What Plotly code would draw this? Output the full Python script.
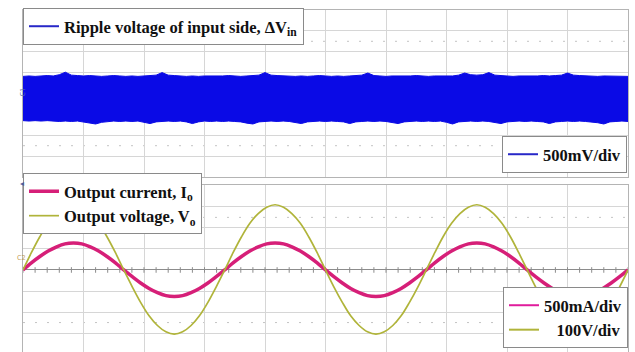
import plotly.graph_objects as go

# ---------------- data ----------------
# time axis, ms (5 ms/div, 10 div)
t_ripple = [i * 0.5 for i in range(101)]
ripple_top = [0.41, 0.42, 0.41, 0.42, 0.43, 0.42, 0.45, 0.51, 0.44, 0.43,
              0.42, 0.43, 0.42, 0.41, 0.42, 0.43, 0.42, 0.41, 0.42, 0.41,
              0.42, 0.43, 0.44, 0.50, 0.44, 0.43, 0.42, 0.41, 0.42, 0.41,
              0.42, 0.42, 0.41, 0.42, 0.43, 0.42, 0.41, 0.42, 0.43, 0.44,
              0.50, 0.44, 0.43, 0.42, 0.42, 0.41, 0.42, 0.41, 0.42, 0.43,
              0.42, 0.41, 0.42, 0.41, 0.42, 0.43, 0.44, 0.49, 0.43, 0.42,
              0.41, 0.42, 0.42, 0.41, 0.42, 0.43, 0.42, 0.41, 0.42, 0.42,
              0.43, 0.42, 0.44, 0.49, 0.45, 0.44, 0.45, 0.50, 0.44, 0.43,
              0.42, 0.41, 0.42, 0.42, 0.41, 0.42, 0.43, 0.42, 0.43, 0.44,
              0.49, 0.44, 0.43, 0.42, 0.42, 0.41, 0.42, 0.42, 0.41, 0.42,
              0.41]
ripple_bot = [-0.65, -0.66, -0.65, -0.66, -0.65, -0.66, -0.67, -0.66, -0.67, -0.66,
              -0.68, -0.70, -0.73, -0.69, -0.67, -0.66, -0.67, -0.66, -0.67, -0.66,
              -0.69, -0.72, -0.68, -0.67, -0.66, -0.67, -0.66, -0.68, -0.72, -0.68,
              -0.66, -0.67, -0.66, -0.67, -0.66, -0.67, -0.68, -0.71, -0.73, -0.68,
              -0.67, -0.66, -0.67, -0.66, -0.67, -0.70, -0.72, -0.68, -0.67, -0.66,
              -0.67, -0.66, -0.67, -0.68, -0.72, -0.68, -0.67, -0.66, -0.67, -0.66,
              -0.67, -0.69, -0.72, -0.68, -0.67, -0.66, -0.67, -0.66, -0.67, -0.66,
              -0.69, -0.73, -0.68, -0.67, -0.66, -0.67, -0.66, -0.67, -0.69, -0.72,
              -0.68, -0.67, -0.66, -0.67, -0.66, -0.67, -0.68, -0.72, -0.68, -0.67,
              -0.66, -0.67, -0.66, -0.67, -0.68, -0.70, -0.73, -0.68, -0.67, -0.66,
              -0.67]

t_wave = [0, 0.69, 1.39, 2.08, 2.78, 3.47, 4.17, 4.86, 5.56, 6.25, 6.94, 7.64,
          8.33, 9.03, 9.72, 10.42, 11.11, 11.81, 12.5, 13.19, 13.89, 14.58, 15.28, 15.97,
          16.67, 17.36, 18.06, 18.75, 19.44, 20.14, 20.83, 21.53, 22.22, 22.92, 23.61, 24.31,
          25.0, 25.69, 26.39, 27.08, 27.78, 28.47, 29.17, 29.86, 30.56, 31.25, 31.94, 32.64,
          33.33, 34.03, 34.72, 35.42, 36.11, 36.81, 37.5, 38.19, 38.89, 39.58, 40.28, 40.97,
          41.67, 42.36, 43.06, 43.75, 44.44, 45.14, 45.83, 46.53, 47.22, 47.92, 48.61, 49.31,
          50.0]
current_A = [0, 0.17, 0.32, 0.45, 0.55, 0.62, 0.64, 0.62, 0.55, 0.45, 0.32, 0.17,
             0, -0.16, -0.31, -0.44, -0.54, -0.61, -0.63, -0.61, -0.54, -0.44, -0.31, -0.16,
             0, 0.17, 0.32, 0.45, 0.55, 0.62, 0.64, 0.62, 0.55, 0.45, 0.32, 0.17,
             0, -0.16, -0.31, -0.44, -0.54, -0.61, -0.63, -0.61, -0.54, -0.44, -0.31, -0.16,
             0, 0.17, 0.32, 0.45, 0.55, 0.62, 0.64, 0.62, 0.55, 0.45, 0.32, 0.17,
             0, -0.16, -0.31, -0.44, -0.54, -0.61, -0.63, -0.61, -0.54, -0.44, -0.31, -0.16,
             0]
voltage_V = [0, 82, 158, 222, 268, 298, 310, 298, 268, 222, 158, 82,
             0, -80, -154, -218, -264, -294, -305, -294, -264, -218, -154, -80,
             0, 82, 158, 222, 268, 298, 310, 298, 268, 222, 158, 82,
             0, -80, -154, -218, -264, -294, -305, -294, -264, -218, -154, -80,
             0, 82, 158, 222, 268, 298, 310, 298, 268, 222, 158, 82,
             0, -80, -154, -218, -264, -294, -305, -294, -264, -218, -154, -80,
             0]

tick_ms = list(range(0, 51))

BLUE = "#0a0ae6"
MAG = "#d61f78"
OLIVE = "#b0b43a"
GRID = "#d6d6d6"
BORDER = "#b4b4b4"

fig = go.Figure()

# ripple band
fig.add_trace(go.Scatter(x=t_ripple, y=ripple_top, mode="lines",
                         line=dict(color=BLUE, width=1), showlegend=False,
                         xaxis="x", yaxis="y"))
fig.add_trace(go.Scatter(x=t_ripple, y=ripple_bot, mode="lines", fill="tonexty",
                         fillcolor=BLUE, line=dict(color=BLUE, width=1),
                         showlegend=False, xaxis="x", yaxis="y"))

# centre-line tick marks on bottom panel
fig.add_trace(go.Scatter(x=tick_ms, y=[0] * len(tick_ms), mode="markers",
                         marker=dict(symbol="line-ns-open", size=4, color="#8c8c8c",
                                     line=dict(color="#8c8c8c", width=1)),
                         showlegend=False, xaxis="x2", yaxis="y2", hoverinfo="skip"))

# output waveforms
fig.add_trace(go.Scatter(x=t_wave, y=voltage_V, mode="lines",
                         line=dict(color=OLIVE, width=1.7, shape="spline"),
                         name="Output voltage, V<sub>o</sub>", legend="legend3",
                         legendrank=2, xaxis="x2", yaxis="y3"))
fig.add_trace(go.Scatter(x=t_wave, y=current_A, mode="lines",
                         line=dict(color=MAG, width=3.5, shape="spline"),
                         name="Output current, I<sub>o</sub>", legend="legend3",
                         legendrank=1, xaxis="x2", yaxis="y2"))

# legend-only entries
fig.add_trace(go.Scatter(x=[None], y=[None], mode="lines",
                         line=dict(color="#2828c8", width=2),
                         name="Ripple voltage of input side, ΔV<sub>in</sub>",
                         legend="legend"))
fig.add_trace(go.Scatter(x=[None], y=[None], mode="lines",
                         line=dict(color="#2828c8", width=2),
                         name="500mV/div", legend="legend2"))
fig.add_trace(go.Scatter(x=[None], y=[None], mode="lines",
                         line=dict(color="#e01c9c", width=2),
                         name="500mA/div", legend="legend4", legendrank=1))
fig.add_trace(go.Scatter(x=[None], y=[None], mode="lines",
                         line=dict(color=OLIVE, width=2),
                         name="\u00a0\u00a0\u00a0100V/div", legend="legend4", legendrank=2))

xdom = [23 / 635, 628 / 635]
axcommon = dict(showgrid=True, gridcolor=GRID, gridwidth=1, showticklabels=False,
                ticks="", showline=True, linecolor=BORDER, linewidth=1, mirror=True,
                zeroline=False, fixedrange=True)

legfont = dict(family="Liberation Serif", size=16.5, color="#111111", weight="bold")
legbase = dict(bgcolor="white", bordercolor="#8a8a8a", borderwidth=1, font=legfont,
               tracegroupgap=0, itemwidth=30)

fig.update_layout(
    width=635, height=352, margin=dict(l=0, r=0, t=0, b=0),
    paper_bgcolor="white", plot_bgcolor="white",
    xaxis=dict(domain=xdom, range=[0, 50], dtick=5, anchor="y", **axcommon),
    yaxis=dict(domain=[1 - 177 / 352, 1 - 10 / 352], range=[-2, 2], dtick=0.5,
               anchor="x", **axcommon),
    xaxis2=dict(domain=xdom, range=[0, 50], dtick=5, anchor="y2", **axcommon),
    yaxis2=dict(domain=[0, 1 - 185 / 352], range=[-1.95, 2.02], dtick=0.5,
                anchor="x2", **{**axcommon, "zeroline": True},
                zerolinecolor="#8c8c8c", zerolinewidth=1),
    yaxis3=dict(overlaying="y2", range=[-390, 404], visible=False, fixedrange=True),
    legend=dict(x=23 / 635, y=1 - 8 / 352, xanchor="left", yanchor="top", **legbase),
    legend2=dict(x=627 / 635, y=1 - 173 / 352, xanchor="right", yanchor="bottom", **legbase),
    legend3=dict(x=23 / 635, y=1 - 173 / 352, xanchor="left", yanchor="top",
                 traceorder="normal", **legbase),
    legend4=dict(x=628 / 635, y=1 - 348 / 352, xanchor="right", yanchor="bottom",
                 traceorder="normal", **legbase),
    showlegend=True,
)

shapes = []
# darker vertical centre line in both panels
for xr, yr in [("x", "y domain"), ("x2", "y2 domain")]:
    shapes.append(dict(type="line", xref=xr, yref=yr, x0=25, x1=25, y0=0, y1=1,
                       line=dict(color="#a8a8a8", width=1), layer="below"))
# dotted rows at +/- 2.5 div
for xr, yref, val in [("x", "y", 1.25), ("x", "y", -1.25), ("x2", "y2", 1.25), ("x2", "y2", -1.25)]:
    shapes.append(dict(type="line", xref=xr, yref=yref, x0=0, x1=50, y0=val, y1=val,
                       line=dict(color="#c4c4c4", width=1, dash="2px,10px"), layer="below"))
fig.update_layout(shapes=shapes)

fig.add_annotation(x=15 / 635, y=1 - 87 / 352, xref="paper", yref="paper", text="C1",
                   textangle=-90, showarrow=False, font=dict(size=7, color="#6070a8"))
fig.add_annotation(x=15 / 635, y=1 - 264 / 352, xref="paper", yref="paper", text="C2",
                   showarrow=False, font=dict(size=7, color="#c09850"))
fig.add_annotation(x=18 / 635, y=1 - 182 / 352, xref="paper", yref="paper", text="◂",
                   showarrow=False, font=dict(size=8, color="#5060a0"))

fig.write_html("out.html", config={"displayModeBar": False, "staticPlot": True},
               post_script="document.body.style.margin='0';document.body.style.padding='0';"
                           "document.body.style.overflow='hidden';")
